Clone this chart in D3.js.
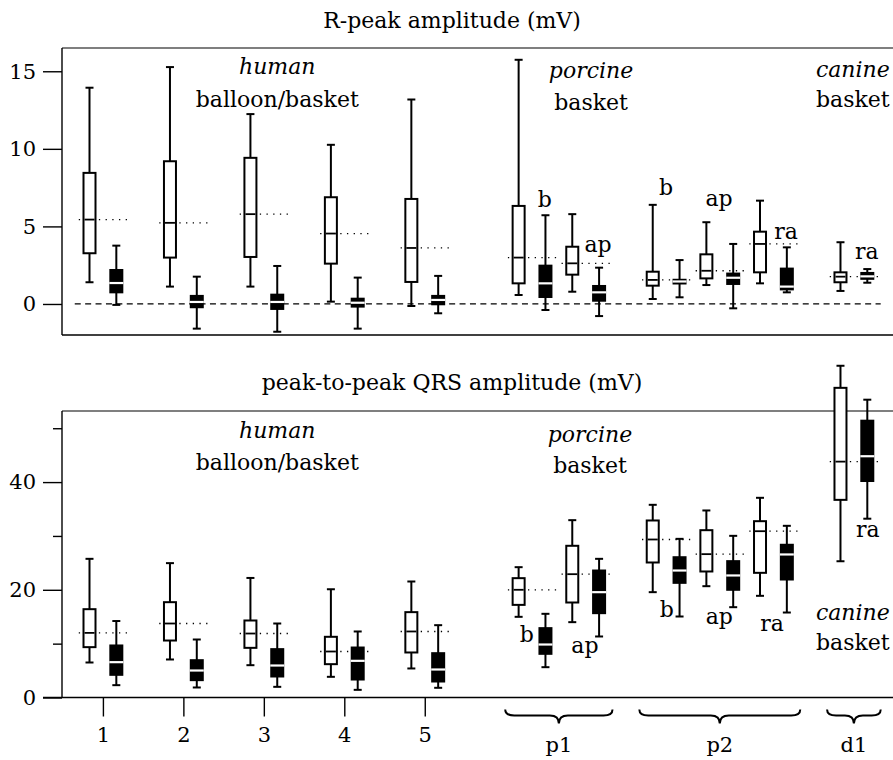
<!DOCTYPE html>
<html>

<head>
  <title>R-peak and QRS amplitude</title>
  <script src='https://d3js.org/d3.v7.min.js'></script>
</head>

<body style='margin:0'>
  <svg id="canvas" height='760' width='893'></svg>

  <script>
    /** slot index of every box along x; even entries are open boxes, odd entries are filled boxes */
    const slots = [0, 1, 3, 4, 6, 7, 9, 10, 12, 13, 16, 17, 18, 19, 21, 22, 23, 24, 25, 26, 28, 29];

    // R-peak amplitude (mV): whisker low, Q1, median, Q3, whisker high
    const rLow = [1.40, -0.06, 1.12, -1.59, 1.12, -1.79, 0.15, -1.59, -0.13, -0.60, 0.58, -0.39, 0.79, -0.78, 0.32, 0.43, 1.22, -0.28, 1.33, 0.75, 0.84, 1.37];
    const rQ1 = [3.27, 0.75, 2.99, -0.21, 3.03, -0.32, 2.60, -0.17, 1.42, -0.02, 1.33, 0.45, 1.89, 0.21, 1.18, 1.32, 1.65, 1.29, 2.04, 0.94, 1.40, 1.62];
    const rMed = [5.44, 1.35, 5.23, 0.13, 5.79, 0.13, 4.54, 0.08, 3.61, 0.26, 2.99, 1.33, 2.62, 0.75, 1.55, 1.45, 2.14, 1.69, 3.87, 1.12, 1.76, 1.78];
    const rQ3 = [8.45, 2.19, 9.20, 0.52, 9.42, 0.60, 6.88, 0.34, 6.77, 0.52, 6.32, 2.47, 3.69, 1.16, 2.08, 1.56, 3.20, 1.96, 4.66, 2.28, 2.04, 2.00];
    const rHigh = [13.94, 3.76, 15.27, 1.76, 12.24, 2.45, 10.26, 1.70, 13.18, 1.81, 15.74, 5.72, 5.79, 2.34, 6.39, 2.83, 5.27, 3.87, 6.66, 3.65, 3.98, 2.25];

    // peak-to-peak QRS amplitude (mV)
    const qLow = [6.50, 2.29, 7.06, 1.86, 6.00, 1.98, 3.84, 1.42, 5.39, 1.80, 14.98, 5.63, 13.99, 11.33, 19.56, 15.04, 20.67, 16.77, 18.88, 15.78, 25.3, 33.2];
    const qQ1 = [9.35, 4.21, 10.58, 3.22, 9.22, 3.90, 6.19, 3.34, 8.36, 2.97, 17.2, 8.11, 17.64, 15.66, 25.07, 21.29, 23.4, 20.0, 23.15, 21.91, 36.7, 40.2];
    const qMed = [12.0, 6.56, 13.74, 5.01, 11.88, 5.94, 8.54, 6.81, 12.26, 5.20, 20.0, 9.84, 22.9, 19.56, 29.34, 23.58, 26.62, 22.66, 30.88, 26.56, 43.8, 44.8];
    const qQ3 = [16.4, 9.66, 17.7, 6.93, 14.3, 8.98, 11.27, 9.28, 15.85, 8.23, 22.16, 12.88, 28.17, 23.58, 32.87, 26.05, 31.07, 25.32, 32.74, 28.36, 57.5, 51.4];
    const qHigh = [25.75, 14.2, 24.95, 10.77, 22.2, 13.74, 20.1, 12.26, 21.54, 13.43, 24.2, 15.54, 32.93, 25.75, 35.78, 29.46, 34.73, 30.02, 37.08, 31.88, 61.6, 55.3];

    // axis ticks and category labels
    const rTicks = [0, 5, 10, 15];
    const qTicks = [0, 20, 40];
    const qMinorTicks = [10, 30, 50];
    const xTickPos = [0.5, 3.5, 6.5, 9.5, 12.5];
    const xTickLabels = ['1', '2', '3', '4', '5'];
    const braceLabels = ['p1', 'p2', 'd1'];
    const braceFrom = [15.5, 20.5, 27.5];
    const braceTo = [19.5, 26.5, 29.5];

    // text notes inside the panels: slot, value, text, italic
    const rNotes = [
      [7, 14.82, 'human', true], [7, 12.72, 'balloon/basket', false],
      [18.7, 14.55, 'porcine', true], [18.7, 12.5, 'basket', false],
      [28.46, 14.63, 'canine', true], [28.46, 12.68, 'basket', false],
      [16.98, 6.27, 'b', false], [18.96, 3.33, 'ap', false],
      [21.5, 7.02, 'b', false], [23.47, 6.32, 'ap', false], [25.97, 4.17, 'ra', false],
      [28.98, 2.88, 'ra', false]
    ];
    const qNotes = [
      [7, 48.13, 'human', true], [7, 42.25, 'balloon/basket', false],
      [18.66, 47.5, 'porcine', true], [18.66, 41.63, 'basket', false],
      [28.46, 14.39, 'canine', true], [28.46, 8.82, 'basket', false],
      [16.3, 10.36, 'b', false], [18.47, 8.21, 'ap', false],
      [21.52, 15.0, 'b', false], [23.48, 13.65, 'ap', false], [25.45, 12.4, 'ra', false],
      [29.02, 29.86, 'ra', false]
    ];

    const svg = d3.select('svg#canvas');
    const font = "'DejaVu Serif', serif";
    const left = 62;
    const width = 893;

    const x = d3.scaleLinear().domain([0, 29]).range([89.5, 867.3]);
    const yTop = d3.scaleLinear().domain([-2, 16.5]).range([335, 48]);
    const yBot = d3.scaleLinear().domain([0, 53.2]).range([697.5, 411]);

    const boxW = 12;
    const capW = 8;

    function styleAxis(g) {
      g.select('.domain').remove();
      g.selectAll('.tick line').attr('stroke', 'black').attr('stroke-width', 1.4);
      g.selectAll('.tick text')
        .style('font-family', font)
        .style('font-size', '21px')
        .attr('fill', 'black');
    }

    function drawPanel(yScale, low, q1, med, q3, high) {
      const g = svg.append('g');

      // dotted reference at the open box median, across each pair
      for (let k = 0; k < slots.length; k += 2) {
        g.append('line')
          .attr('x1', x(slots[k] - 0.4))
          .attr('x2', x(slots[k + 1] + 0.4))
          .attr('y1', yScale(med[k]))
          .attr('y2', yScale(med[k]))
          .attr('stroke', 'black')
          .attr('stroke-width', 1.3)
          .attr('stroke-dasharray', '1.3,5.4');
      }

      slots.forEach((s, k) => {
        const cx = x(s);
        const dark = k % 2 === 1;
        g.append('line')
          .attr('x1', cx).attr('x2', cx)
          .attr('y1', yScale(low[k])).attr('y2', yScale(high[k]))
          .attr('stroke', 'black').attr('stroke-width', 2);
        [low[k], high[k]].forEach(v => {
          g.append('line')
            .attr('x1', cx - capW / 2).attr('x2', cx + capW / 2)
            .attr('y1', yScale(v)).attr('y2', yScale(v))
            .attr('stroke', 'black').attr('stroke-width', 2);
        });
        g.append('rect')
          .attr('x', cx - boxW / 2)
          .attr('y', yScale(q3[k]))
          .attr('width', boxW)
          .attr('height', yScale(q1[k]) - yScale(q3[k]))
          .attr('fill', dark ? 'black' : 'white')
          .attr('stroke', 'black')
          .attr('stroke-width', 2);
        // filled boxes get a white median cut right across them
        const half = dark ? boxW / 2 + 1 : boxW / 2 - 1;
        g.append('line')
          .attr('x1', cx - half).attr('x2', cx + half)
          .attr('y1', yScale(med[k])).attr('y2', yScale(med[k]))
          .attr('stroke', dark ? 'white' : 'black')
          .attr('stroke-width', dark ? 2.2 : 1.8);
      });
      return g;
    }

    function drawNotes(notes, yScale) {
      notes.forEach(n => {
        svg.append('text')
          .attr('x', x(n[0]))
          .attr('y', yScale(n[1]))
          .attr('text-anchor', 'middle')
          .style('font-family', font)
          .style('font-size', '22px')
          .style('font-style', n[3] ? 'italic' : 'normal')
          .text(n[2]);
      });
    }

    /** Top panel: R-peak amplitude */
    svg.append('g')
      .attr('transform', `translate(${left},0)`)
      .call(d3.axisLeft(yTop).tickValues(rTicks).tickSize(19).tickPadding(7).tickFormat(d3.format('d')))
      .call(styleAxis);

    svg.append('line')
      .attr('x1', left).attr('x2', width).attr('y1', yTop.range()[1]).attr('y2', yTop.range()[1])
      .attr('stroke', '#555').attr('stroke-width', 1.4);
    svg.append('line')
      .attr('x1', left).attr('x2', width).attr('y1', yTop.range()[0]).attr('y2', yTop.range()[0])
      .attr('stroke', 'black').attr('stroke-width', 1.4);
    svg.append('line')
      .attr('x1', left).attr('x2', left).attr('y1', yTop.range()[1]).attr('y2', yTop.range()[0])
      .attr('stroke', 'black').attr('stroke-width', 1.4);

    // zero reference
    svg.append('line')
      .attr('x1', x(-0.55)).attr('x2', x(29.5))
      .attr('y1', yTop(0)).attr('y2', yTop(0))
      .attr('stroke', 'black').attr('stroke-width', 1.3)
      .attr('stroke-dasharray', '6,4.4');

    drawPanel(yTop, rLow, rQ1, rMed, rQ3, rHigh);
    drawNotes(rNotes, yTop);

    svg.append('text')
      .attr('x', 452).attr('y', 28)
      .attr('text-anchor', 'middle')
      .style('font-family', font).style('font-size', '22px')
      .text('R-peak amplitude (mV)');

    /** Bottom panel: peak-to-peak QRS amplitude */
    svg.append('g')
      .attr('transform', `translate(${left},0)`)
      .call(d3.axisLeft(yBot).tickValues(qTicks).tickSize(19).tickPadding(7).tickFormat(d3.format('d')))
      .call(styleAxis);
    svg.append('g')
      .attr('transform', `translate(${left},0)`)
      .call(d3.axisLeft(yBot).tickValues(qMinorTicks).tickSize(9).tickFormat(''))
      .call(styleAxis);

    svg.append('line')
      .attr('x1', left).attr('x2', width).attr('y1', yBot.range()[1]).attr('y2', yBot.range()[1])
      .attr('stroke', '#555').attr('stroke-width', 1.4);
    svg.append('line')
      .attr('x1', left).attr('x2', left).attr('y1', yBot.range()[1]).attr('y2', yBot.range()[0])
      .attr('stroke', 'black').attr('stroke-width', 1.4);
    svg.append('line')
      .attr('x1', left - 19).attr('x2', width).attr('y1', yBot(0)).attr('y2', yBot(0))
      .attr('stroke', 'black').attr('stroke-width', 1.4);

    drawPanel(yBot, qLow, qQ1, qMed, qQ3, qHigh);
    drawNotes(qNotes, yBot);

    svg.append('text')
      .attr('x', 452).attr('y', 390)
      .attr('text-anchor', 'middle')
      .style('font-family', font).style('font-size', '22px')
      .text('peak-to-peak QRS amplitude (mV)');

    // x axis: numbered human groups
    const xAxisG = svg.append('g')
      .attr('transform', `translate(0,${yBot(0)})`)
      .call(d3.axisBottom(x).tickValues(xTickPos).tickSize(19).tickFormat((d, k) => xTickLabels[k]))
      .call(styleAxis);
    xAxisG.selectAll('.tick text').attr('y', 44).attr('dy', 0);

    // braces under the animal groups
    const by = yBot(0);
    braceLabels.forEach((lab, k) => {
      const x0 = x(braceFrom[k]);
      const x1 = x(braceTo[k]);
      const xm = (x0 + x1) / 2;
      const r = 9;
      const path = `M${x0},${by + 12} Q${x0},${by + 18} ${x0 + r},${by + 18} L${xm - r},${by + 18}`
        + ` Q${xm},${by + 18} ${xm},${by + 26} Q${xm},${by + 18} ${xm + r},${by + 18}`
        + ` L${x1 - r},${by + 18} Q${x1},${by + 18} ${x1},${by + 12}`;
      svg.append('path')
        .attr('d', path)
        .attr('fill', 'none')
        .attr('stroke', 'black')
        .attr('stroke-width', 2);
      svg.append('text')
        .attr('x', xm)
        .attr('y', by + 54)
        .attr('text-anchor', 'middle')
        .style('font-family', font).style('font-size', '21px')
        .text(lab);
    });
  </script>

</body>

</html>
